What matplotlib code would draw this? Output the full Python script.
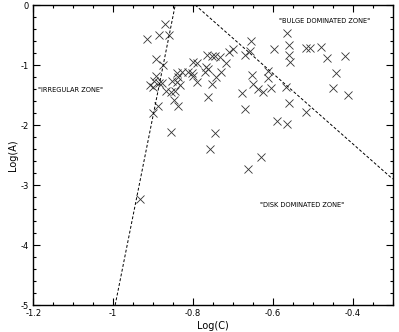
import matplotlib
matplotlib.use('Agg')
import matplotlib.pyplot as plt
from matplotlib.ticker import MultipleLocator

# galaxies: log(C) and log(A)
log_c = [-0.870, -0.885, -0.860, -0.915, -0.892, -0.875, -0.800, -0.790,
         -0.840, -0.827, -0.812, -0.802, -0.800, -0.790, -0.892, -0.897,
         -0.885, -0.907, -0.900, -0.877, -0.852, -0.840, -0.832, -0.837,
         -0.867, -0.855, -0.845, -0.847, -0.837, -0.887, -0.900, -0.855,
         -0.564, -0.654, -0.559, -0.516, -0.508, -0.479, -0.597, -0.657,
         -0.701, -0.711, -0.669, -0.559, -0.556, -0.464, -0.419, -0.765,
         -0.752, -0.745, -0.732, -0.717, -0.767, -0.762, -0.770, -0.730,
         -0.742, -0.752, -0.762, -0.652, -0.612, -0.612, -0.649, -0.637,
         -0.624, -0.604, -0.566, -0.441, -0.449, -0.411, -0.677, -0.559,
         -0.516, -0.669, -0.589, -0.564, -0.745, -0.757, -0.629, -0.662,
         -0.932]
log_a = [-0.317, -0.500, -0.500, -0.567, -0.900, -1.000, -0.950, -0.967,
         -1.133, -1.117, -1.117, -1.133, -1.183, -1.283, -1.183, -1.267,
         -1.300, -1.333, -1.367, -1.300, -1.267, -1.283, -1.333, -1.200,
         -1.433, -1.450, -1.433, -1.583, -1.683, -1.683, -1.800, -2.117,
         -0.467, -0.600, -0.667, -0.717, -0.717, -0.700, -0.733, -0.767,
         -0.733, -0.783, -0.833, -0.833, -0.950, -0.883, -0.850, -0.833,
         -0.850, -0.850, -0.867, -0.967, -1.033, -1.067, -1.117, -1.117,
         -1.200, -1.317, -1.533, -1.167, -1.100, -1.217, -1.317, -1.400,
         -1.450, -1.383, -1.367, -1.133, -1.383, -1.500, -1.467, -1.633,
         -1.783, -1.733, -1.933, -1.983, -2.133, -2.400, -2.533, -2.733,
         -3.233]

# zone boundaries
irr_c = [-0.995, -0.8446]
irr_a = [-5.0, 0.0]
bulge_c = [-0.7945, -0.3]
bulge_a = [0.0, -2.9]

fig = plt.figure(figsize=(3.99, 3.32), dpi=100)
ax = fig.add_axes([0.0835, 0.0813, 0.9007, 0.9036])

ax.plot(log_c, log_a, 'x', color='#333333', markersize=5.5, mew=0.6)
ax.plot(irr_c, irr_a, color='black', lw=0.7, linestyle=(0, (3, 2)))
ax.plot(bulge_c, bulge_a, color='black', lw=0.7, linestyle=(0, (3, 2)))

ax.text(-1.108, -1.42, '"IRREGULAR ZONE"', fontsize=4.8, ha='center', va='center')
ax.text(-0.47, -0.27, '"BULGE DOMINATED ZONE"', fontsize=4.8, ha='center', va='center')
ax.text(-0.528, -3.33, '"DISK DOMINATED ZONE"', fontsize=4.8, ha='center', va='center')

ax.set_xlim(-1.2, -0.3)
ax.set_ylim(-5, 0)
ax.set_xticks([-1.2, -1.0, -0.8, -0.6, -0.4])
ax.set_xticklabels(['-1.2', '-1', '-0.8', '-0.6', '-0.4'])
ax.set_yticks([-5, -4, -3, -2, -1, 0])
ax.set_yticklabels(['-5', '-4', '-3', '-2', '-1', '0'])
ax.xaxis.set_minor_locator(MultipleLocator(0.05))
ax.yaxis.set_minor_locator(MultipleLocator(0.2))
ax.tick_params(which='both', direction='in', top=True, right=True,
               labelsize=6, width=0.8, pad=3)
ax.tick_params(which='major', length=5)
ax.tick_params(which='minor', length=2.5)
for s in ax.spines.values():
    s.set_linewidth(1.0)

ax.set_xlabel('Log(C)', fontsize=7, labelpad=2)
ax.set_ylabel('Log(A)', fontsize=7, labelpad=2)

fig.savefig('out.png', dpi=100)
